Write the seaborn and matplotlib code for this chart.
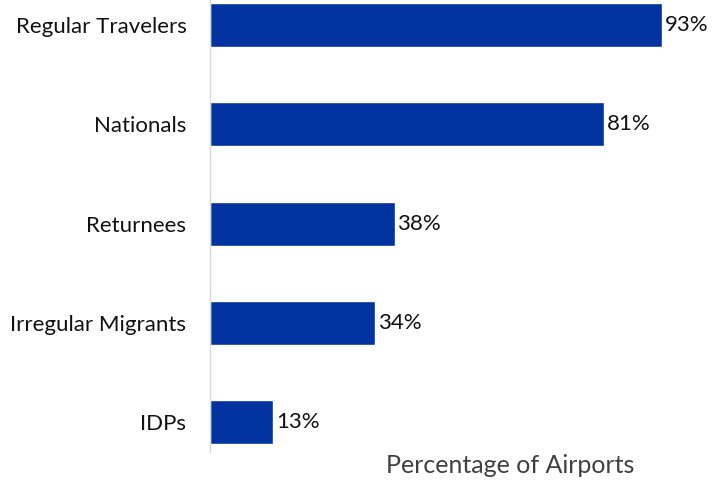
import matplotlib
matplotlib.use("Agg")
import matplotlib.pyplot as plt
import seaborn as sns
import pandas as pd

categories = ["Regular Travelers", "Nationals", "Returnees", "Irregular Migrants", "IDPs"]
values = [93, 81, 38, 34, 13]
value_labels = ["93%", "81%", "38%", "34%", "13%"]

sns.set_style("white")
plt.rcParams["font.family"] = ["Lato", "DejaVu Sans"]

df = pd.DataFrame({"group": categories, "pct": values})

fig = plt.figure(figsize=(7.22, 4.83), dpi=100)
ax = fig.add_axes([0.2909, 0.0642, 0.673, 0.9358])

sns.barplot(data=df, x="pct", y="group", order=categories, color="#0033A0",
            width=0.443, saturation=1, ax=ax)

ax.set_xlim(0, 100)
ax.set_ylim(4.30, -0.25)
for c in ax.containers:
    ax.bar_label(c, labels=value_labels, padding=2, fontsize=16, color="#111111")

ax.set_ylabel("")
ax.set_xticks([])
ax.tick_params(axis="y", length=0, pad=17, labelsize=16, labelcolor="#111111")
ax.set_xlabel("Percentage of Airports", fontsize=18, color="#404040")
ax.xaxis.set_label_coords(0.617, -0.005, transform=ax.transAxes)

for side in ["top", "right", "bottom"]:
    ax.spines[side].set_visible(False)
ax.spines["left"].set_color("#d9d9d9")
ax.spines["left"].set_linewidth(1)

fig.savefig("out.png", dpi=100)
